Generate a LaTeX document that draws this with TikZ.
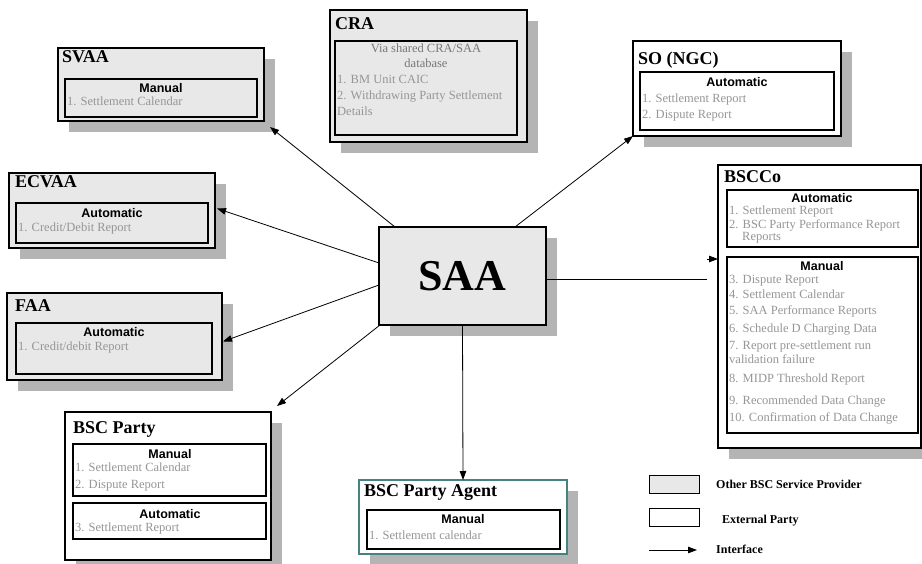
\documentclass[tikz,border=0pt]{standalone}
\usepackage{fontspec}
\setmainfont{Liberation Serif}
\setsansfont{Liberation Sans}
\usetikzlibrary{arrows.meta,calc,shadows}
\definecolor{boxgray}{RGB}{232,232,232}
\definecolor{shadegray}{RGB}{180,180,180}
\definecolor{itemgray}{RGB}{150,150,150}
\definecolor{agentteal}{RGB}{70,130,130}

\begin{document}
\begin{tikzpicture}[x=1pt,y=-1pt,
	party/.style={draw,line width=1.3pt,anchor=north west,inner sep=0pt,outer sep=0pt,
		drop shadow={shadow xshift=11pt,shadow yshift=-11pt,fill=shadegray,opacity=1}},
	provider/.style={party,fill=boxgray},
	external/.style={party,fill=white},
	section/.style={draw,line width=1.1pt,anchor=north west,inner sep=0pt,outer sep=0pt},
	title/.style={anchor=base west,inner sep=0pt,font=\bfseries\fontsize{18}{18}\selectfont},
	head/.style={anchor=base,inner sep=0pt,font=\sffamily\bfseries\fontsize{12.5}{14}\selectfont},
	item/.style={anchor=base west,inner sep=0pt,text=itemgray,font=\fontsize{12.5}{14}\selectfont},
	legtext/.style={anchor=base west,inner sep=0pt,font=\bfseries\fontsize{12}{13}\selectfont},
	legbox/.style={draw,line width=0.9pt,anchor=north west,inner sep=0pt,minimum width=50pt,minimum height=18pt},
	iface/.style={-{Triangle[length=9pt,width=6.5pt]},line width=0.8pt}]
\useasboundingbox (0,0) rectangle (922,564);

\node[provider,minimum width=206pt,minimum height=73pt] (svaa) at (58,48) {};
\node[section,minimum width=192pt,minimum height=38pt] (svaa-man) at (65,79) {};
\node[title] (svaa-t) at (62,63) {SVAA};
\node[head] (svaa-h) at (161,93) {Manual};
\node[item] (svaa-1) at (67,106) {1. Settlement Calendar};

\node[provider,minimum width=197pt,minimum height=132pt] (cra) at (330,10) {};
\node[section,minimum width=182pt,minimum height=94pt] (cra-db) at (335,41) {};
\node[title] (cra-t) at (335,30) {CRA};
\node[item,anchor=base,text=itemgray!80!black] (cra-h1) at (426,53) {Via shared CRA/SAA};
\node[item,anchor=base,text=itemgray!80!black] (cra-h2) at (426,68) {database};
\node[item] (cra-1) at (337,84) {1. BM Unit CAIC};
\node[item] (cra-2) at (337,100) {2. Withdrawing Party Settlement};
\node[item] (cra-2b) at (337,116) {Details};

\node[external,minimum width=208pt,minimum height=95pt] (so) at (633,41) {};
\node[section,minimum width=194pt,minimum height=58pt] (so-auto) at (640,72) {};
\node[title] (so-t) at (638,65) {SO (NGC)};
\node[head] (so-h) at (737,87) {Automatic};
\node[item] (so-1) at (642,103) {1. Settlement Report};
\node[item] (so-2) at (642,119) {2. Dispute Report};

\node[provider,minimum width=206pt,minimum height=75pt] (ecvaa) at (9,173) {};
\node[section,minimum width=192pt,minimum height=40pt] (ecvaa-auto) at (16,203) {};
\node[title] (ecvaa-t) at (15,188) {ECVAA};
\node[head] (ecvaa-h) at (112,218) {Automatic};
\node[item] (ecvaa-1) at (18,232) {1. Credit/Debit Report};

\node[provider,minimum width=215pt,minimum height=87pt] (faa) at (7,293) {};
\node[section,minimum width=196pt,minimum height=51pt] (faa-auto) at (16,323) {};
\node[title] (faa-t) at (15,312) {FAA};
\node[head] (faa-h) at (114,337) {Automatic};
\node[item] (faa-1) at (18,351) {1. Credit/debit Report};

\node[external,minimum width=206pt,minimum height=148pt] (party) at (65,412) {};
\node[section,minimum width=193pt,minimum height=52pt] (party-man) at (73,444) {};
\node[section,minimum width=193pt,minimum height=36pt] (party-auto) at (73,503) {};
\node[title] (party-t) at (73,433) {BSC Party};
\node[head] (party-h1) at (170,458) {Manual};
\node[item] (party-1) at (75,471) {1. Settlement Calendar};
\node[item] (party-2) at (75,488) {2. Dispute Report};
\node[head] (party-h2) at (170,518) {Automatic};
\node[item] (party-3) at (75,531) {3. Settlement Report};

\node[external,draw=agentteal,minimum width=208pt,minimum height=74pt] (agent) at (359,480) {};
\node[section,minimum width=193pt,minimum height=39pt] (agent-man) at (367,510) {};
\node[title] (agent-t) at (364,496) {BSC Party Agent};
\node[head] (agent-h) at (463,523) {Manual};
\node[item] (agent-1) at (369,539) {1. Settlement calendar};

\node[external,minimum width=203pt,minimum height=283pt] (bscco) at (718,165) {};
\node[section,minimum width=191pt,minimum height=57pt] (bscco-auto) at (727,190) {};
\node[section,minimum width=191pt,minimum height=176pt] (bscco-man) at (727,257) {};
\node[title] (bscco-t) at (724,183) {BSCCo};
\node[head] (bscco-h1) at (822,203) {Automatic};
\node[item] (bscco-1) at (729,215) {1. Settlement Report};
\node[item] (bscco-2) at (729,229) {2. BSC Party Performance Report};
\node[item] (bscco-2b) at (742,241) {Reports};
\node[head] (bscco-h2) at (822,271) {Manual};
\node[item] (bscco-3) at (729,284) {3. Dispute Report};
\node[item] (bscco-4) at (729,299) {4. Settlement Calendar};
\node[item] (bscco-5) at (729,315) {5. SAA Performance Reports};
\node[item] (bscco-6) at (729,333) {6. Schedule D Charging Data};
\node[item] (bscco-7) at (729,349) {7. Report pre-settlement run};
\node[item] (bscco-7b) at (729,363) {validation failure};
\node[item] (bscco-8) at (729,383) {8. MIDP Threshold Report};
\node[item] (bscco-9) at (729,404) {9. Recommended Data Change};
\node[item] (bscco-10) at (729,421) {10. Confirmation of Data Change};

\node[provider,minimum width=167pt,minimum height=98pt] (saa) at (379,227) {};
\node[inner sep=0pt,font=\bfseries\fontsize{44}{44}\selectfont] (saa-t) at (saa.center) {SAA};

\draw[iface] ($(saa.north west)+(16,0)$) -- ($(svaa.south east)+(6,6)$);
\draw[iface] ($(saa.north west)+(136,0)$) -- (so.south west);
\draw[iface] ($(saa.west)+(0,-13)$) -- ($(ecvaa.east)+(2,-2)$);
\draw[iface] ($(saa.west)+(0,9)$) -- ($(faa.east)+(1,5)$);
\draw[iface] ($(saa.south west)+(1,0)$) -- ($(party.north east)+(6,-6)$);
\draw[iface] (saa.south) -- (agent.north);
\coordinate (gap) at (707,279);
\coordinate (tip) at (718,259);
\draw[line width=0.8pt] (saa.east |- gap) -- (gap);
\draw[iface] (gap |- tip) -- (tip);

\node[legbox,fill=boxgray] (leg-p) at (649,475) {};
\node[legtext] (leg-pt) at (716,488) {Other BSC Service Provider};
\node[legbox,fill=white] (leg-e) at (649,508) {};
\node[legtext] (leg-et) at (722,523) {External Party};
\coordinate (leg-a1) at (649,550);
\coordinate (leg-a2) at (697,550);
\draw[iface] (leg-a1) -- (leg-a2);
\node[legtext] (leg-at) at (716,553) {Interface};
\end{tikzpicture}
\end{document}
